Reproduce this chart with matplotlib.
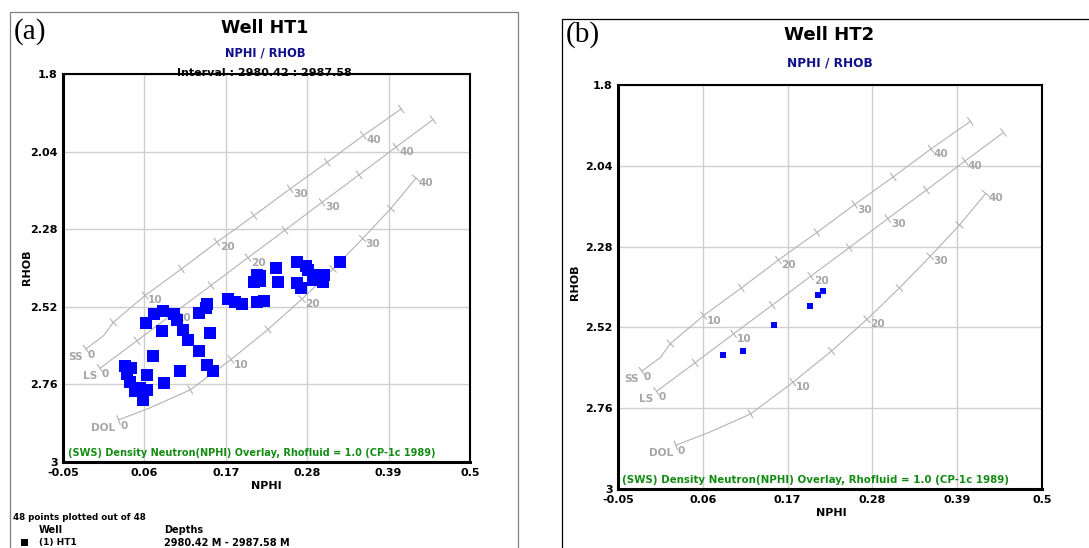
import matplotlib
matplotlib.use("Agg")
import matplotlib.pyplot as plt
from matplotlib.patches import Rectangle
import numpy as np

W, H = 1089, 548

# ---------------- data ----------------
XTICKS = [-0.05, 0.06, 0.17, 0.28, 0.39, 0.5]
XTICK_LABELS = ["-0.05", "0.06", "0.17", "0.28", "0.39", "0.5"]
YTICKS = [1.8, 2.04, 2.28, 2.52, 2.76, 3.0]
YTICK_LABELS = ["1.8", "2.04", "2.28", "2.52", "2.76", "3"]

HT1_NPHI = [0.034, 0.042, 0.037, 0.041, 0.047, 0.058, 0.064, 0.064, 0.072, 0.087,
            0.108, 0.084, 0.062, 0.073, 0.085, 0.100, 0.104, 0.112, 0.119, 0.134,
            0.145, 0.153, 0.149, 0.134, 0.145, 0.173, 0.182, 0.192, 0.212, 0.222,
            0.212, 0.208, 0.216, 0.238, 0.241, 0.266, 0.278, 0.281, 0.291, 0.303,
            0.301, 0.266, 0.272, 0.288, 0.324, 0.054, 0.143, 0.216]
HT1_RHOB = [2.703, 2.709, 2.728, 2.753, 2.780, 2.808, 2.777, 2.731, 2.672, 2.756,
            2.719, 2.595, 2.570, 2.542, 2.533, 2.542, 2.561, 2.592, 2.623, 2.657,
            2.700, 2.719, 2.601, 2.539, 2.511, 2.496, 2.505, 2.511, 2.505, 2.502,
            2.422, 2.443, 2.440, 2.400, 2.443, 2.381, 2.394, 2.406, 2.422, 2.422,
            2.443, 2.446, 2.462, 2.437, 2.381, 2.771, 2.524, 2.425]

HT2_NPHI = [0.086, 0.112, 0.152, 0.199, 0.209, 0.216]
HT2_RHOB = [2.603, 2.591, 2.514, 2.455, 2.425, 2.413]

# Density-neutron overlay (SWS CP-1c, Rhofluid = 1.0)
SS_PHI = [0.0, 0.025, 0.05, 0.10, 0.15, 0.20, 0.25, 0.30, 0.35, 0.40, 0.45]
SS_NPHI = [-0.019, 0.005, 0.018, 0.061, 0.110, 0.158, 0.208, 0.257, 0.307, 0.356, 0.407]
SS_RHOB = [2.650, 2.609, 2.568, 2.485, 2.403, 2.320, 2.238, 2.155, 2.073, 1.990, 1.908]

LS_PHI = [0.0, 0.05, 0.10, 0.15, 0.20, 0.25, 0.30, 0.35, 0.40, 0.45]
LS_NPHI = [0.0, 0.05, 0.10, 0.15, 0.20, 0.25, 0.30, 0.35, 0.40, 0.45]
LS_RHOB = [2.710, 2.625, 2.539, 2.454, 2.368, 2.283, 2.197, 2.112, 2.026, 1.941]

DOL_PHI = [0.0, 0.02, 0.05, 0.10, 0.15, 0.20, 0.25, 0.30, 0.35, 0.40]
DOL_NPHI = [0.025, 0.067, 0.122, 0.177, 0.227, 0.273, 0.315, 0.355, 0.393, 0.427]
DOL_RHOB = [2.870, 2.833, 2.777, 2.683, 2.590, 2.496, 2.403, 2.309, 2.216, 2.122]

LITHOLOGIES = [("SS", SS_PHI, SS_NPHI, SS_RHOB),
               ("LS", LS_PHI, LS_NPHI, LS_RHOB),
               ("DOL", DOL_PHI, DOL_NPHI, DOL_RHOB)]

OVERLAY_TEXT = "(SWS) Density Neutron(NPHI) Overlay, Rhofluid = 1.0 (CP-1c 1989)"

# ---------------- style ----------------
CURVE_C = "#b3b3b3"
LABEL_C = "#a6a6a6"
GRID_C = "#cfcfcf"
NAVY = "#10108c"
GREEN = "#148c14"
BLUE = "#0000ff"
FONT = "DejaVu Sans"
LAB_FS = 7.6

fig = plt.figure(figsize=(W / 100, H / 100), dpi=100)


def fx(x):
    return x / W


def fy(y):
    return 1 - y / H


renderer = fig.canvas.get_renderer()


def fit(t, target_w):
    w = t.get_window_extent(renderer).width
    t.set_fontsize(t.get_fontsize() * target_w / w)
    return t


def ftext(x, y, s, w=None, **kw):
    kw.setdefault("fontfamily", FONT)
    kw.setdefault("fontweight", "bold")
    t = fig.text(fx(x), fy(y), s, **kw)
    if w is not None:
        fit(t, w)
    return t


def make_axes(l, t, r, b):
    ax = fig.add_axes([fx(l), fy(b), (r - l) / W, (b - t) / H])
    ax.set_xlim(-0.05, 0.5)
    ax.set_ylim(3.0, 1.8)
    ax.set_xticks(XTICKS)
    ax.set_xticklabels(XTICK_LABELS)
    ax.set_yticks(YTICKS)
    ax.set_yticklabels(YTICK_LABELS)
    ax.tick_params(length=0, labelsize=8, pad=4)
    for lab in ax.get_xticklabels() + ax.get_yticklabels():
        lab.set_fontweight("bold")
        lab.set_fontfamily(FONT)
    ax.grid(True, color=GRID_C, lw=1.0)
    ax.set_axisbelow(True)
    for side in ("left", "bottom"):
        ax.spines[side].set_linewidth(2.2)
    for side in ("top", "right"):
        ax.spines[side].set_linewidth(1.5)
    return ax


def draw_overlay(ax):
    to_disp = ax.transData
    inv = ax.transData.inverted()
    for name, phi, nphi, rhob in LITHOLOGIES:
        ax.plot(nphi, rhob, color=CURVE_C, lw=0.8, zorder=2)
        pts = to_disp.transform(np.column_stack([nphi, rhob]))
        n = len(phi)
        for i in range(n):
            p100 = phi[i] * 100
            if abs(p100 - round(p100)) > 1e-6 or round(p100) % 5 != 0:
                continue
            a = pts[max(i - 1, 0)]
            b = pts[min(i + 1, n - 1)]
            d = (b - a) / np.hypot(*(b - a))
            perp = np.array([-d[1], d[0]]) * 4.5
            seg = inv.transform(np.array([pts[i] - perp, pts[i] + perp]))
            ax.plot(seg[:, 0], seg[:, 1], color=CURVE_C, lw=0.8, zorder=2)
            val = int(round(p100))
            common = dict(textcoords="offset pixels", va="center", color=LABEL_C,
                          fontsize=LAB_FS, fontweight="bold", fontfamily=FONT, zorder=3)
            if val in (10, 20, 30, 40):
                ax.annotate(str(val), (nphi[i], rhob[i]), xytext=(3, -5),
                            ha="left", **common)
            if val == 0:
                ax.annotate("0", (nphi[i], rhob[i]), xytext=(2, -6),
                            ha="left", **common)
                ax.annotate(name, (nphi[i], rhob[i]), xytext=(-3, -8),
                            ha="right", **common)


# ---------------- frames ----------------
fig.add_artist(Rectangle((fx(9.5), fy(560)), (518 - 9.5) / W, (560 - 11.7) / H,
                         transform=fig.transFigure, fill=False,
                         edgecolor="#808080", lw=0.9))
fig.add_artist(Rectangle((fx(561.5), fy(560)), (1095 - 561.5) / W, (560 - 18.5) / H,
                         transform=fig.transFigure, fill=False,
                         edgecolor="#000000", lw=0.9))

# ---------------- panel (a) ----------------
axa = make_axes(63, 74, 470, 462)
draw_overlay(axa)
axa.scatter(HT1_NPHI, HT1_RHOB, marker="s", s=75, color=BLUE, linewidths=0, zorder=4)
axa.text(0.012, 0.022, OVERLAY_TEXT, transform=axa.transAxes, color=GREEN,
         fontsize=7, fontweight="bold", fontfamily=FONT, va="center", ha="left")
fit(axa.texts[-1], 371)

ftext(30, 32, "(a)", fontfamily="Liberation Serif", fontweight="normal",
      fontsize=21, ha="center", va="center")
ftext(264.5, 28, "Well HT1", w=87, fontsize=13, ha="center", va="center")
ftext(265.5, 52.5, "NPHI / RHOB", w=81, fontsize=8, ha="center", va="center", color=NAVY)
ftext(264.5, 75.5, "Interval : 2980.42 : 2987.58", w=175, fontsize=8,
      ha="center", va="baseline")
ftext(266.5, 486, "NPHI", fontsize=8, ha="center", va="center")
ftext(27, 267, "RHOB", fontsize=8, ha="center", va="center", rotation=90)

ftext(13, 517, "48 points plotted out of 48", w=133, fontsize=6.5, ha="left", va="center")
ftext(39, 530, "Well", w=24, fontsize=6.5, ha="left", va="center")
ftext(164, 530, "Depths", w=39, fontsize=6.5, ha="left", va="center")
fig.add_artist(Rectangle((fx(20.5), fy(546)), 7 / W, 7 / H, transform=fig.transFigure,
                         facecolor="black", edgecolor="none"))
ftext(39, 542.5, "(1) HT1", fontsize=6.5, ha="left", va="center")
ftext(164, 542.5, "2980.42 M - 2987.58 M", w=126, fontsize=6.5, ha="left", va="center")

# ---------------- panel (b) ----------------
axb = make_axes(618, 85, 1042, 489)
draw_overlay(axb)
axb.scatter(HT2_NPHI, HT2_RHOB, marker="s", s=24, color=BLUE, linewidths=0, zorder=4)
axb.text(0.010, 0.022, OVERLAY_TEXT, transform=axb.transAxes, color=GREEN,
         fontsize=7, fontweight="bold", fontfamily=FONT, va="center", ha="left")
fit(axb.texts[-1], 389)

ftext(583, 35, "(b)", fontfamily="Liberation Serif", fontweight="normal",
      fontsize=21, ha="center", va="center")
ftext(829, 35, "Well HT2", w=90, fontsize=13, ha="center", va="center")
ftext(829.5, 62.5, "NPHI / RHOB", w=85, fontsize=8, ha="center", va="center", color=NAVY)
ftext(831, 513, "NPHI", fontsize=8, ha="center", va="center")
ftext(575, 282, "RHOB", fontsize=8, ha="center", va="center", rotation=90)

fig.savefig("out.png", dpi=100)
